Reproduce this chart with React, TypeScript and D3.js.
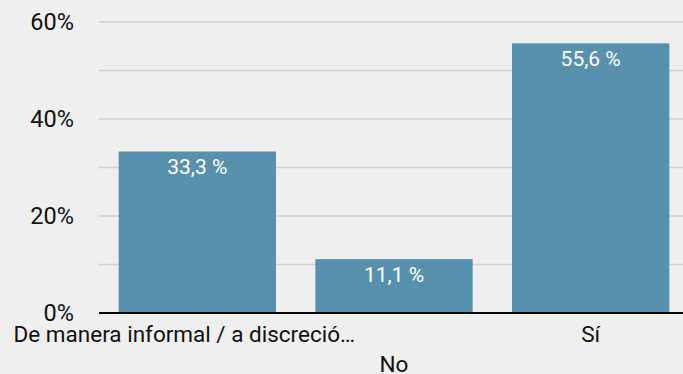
import React from "react";
import * as d3 from "d3";

const categories = ["De manera informal / a discreció…", "No", "Sí"];
const values = [33.3, 11.1, 55.6];
const valueLabels = ["33,3 %", "11,1 %", "55,6 %"];
const yTicks = [0, 10, 20, 30, 40, 50, 60];
const yTickLabels = ["0%", "", "20%", "", "40%", "", "60%"];

const W = 683;
const H = 374;

export default function App() {
  const x = d3.scaleBand<string>().domain(categories).range([99, 689]).paddingInner(0.2).paddingOuter(0.1);
  const y = d3.scaleLinear().domain([0, 60]).range([313, 22]);
  const font = "Roboto, 'Noto Sans', sans-serif";
  const labelShift = [-13, 0, 0];
  return (
    <svg width={W} height={H} style={{ position: "absolute", left: 0, top: 0, background: "#efefef" }}>
      <rect x={0} y={0} width={W} height={H} fill="#efefef" />
      {yTicks.map((t, i) => (
        <g key={t}>
          {t > 0 && <line x1={99} x2={W} y1={y(t)} y2={y(t)} stroke="#d0d0d0" strokeWidth={1.3} />}
          {yTickLabels[i] && (
            <text x={74} y={y(t)} dy="0.36em" textAnchor="end" fontFamily={font} fontSize={23.5} fill="#111">
              {yTickLabels[i]}
            </text>
          )}
        </g>
      ))}
      {categories.map((c, i) => (
        <g key={c}>
          <rect x={x(c)} y={y(values[i])} width={x.bandwidth()} height={y(0) - y(values[i])} fill="#5891ae" />
          <text x={x(c)! + x.bandwidth() / 2} y={y(values[i]) + 23} textAnchor="middle" fontFamily={font} fontSize={21} fill="#fff">
            {valueLabels[i]}
          </text>
          <text x={x(c)! + x.bandwidth() / 2 + labelShift[i]} y={i % 2 === 0 ? 342 : 372} textAnchor="middle" fontFamily={font} fontSize={22.5} fill="#111">
            {c}
          </text>
        </g>
      ))}
      <line x1={99} x2={W} y1={y(0)} y2={y(0)} stroke="#000" strokeWidth={2.2} />
    </svg>
  );
}
